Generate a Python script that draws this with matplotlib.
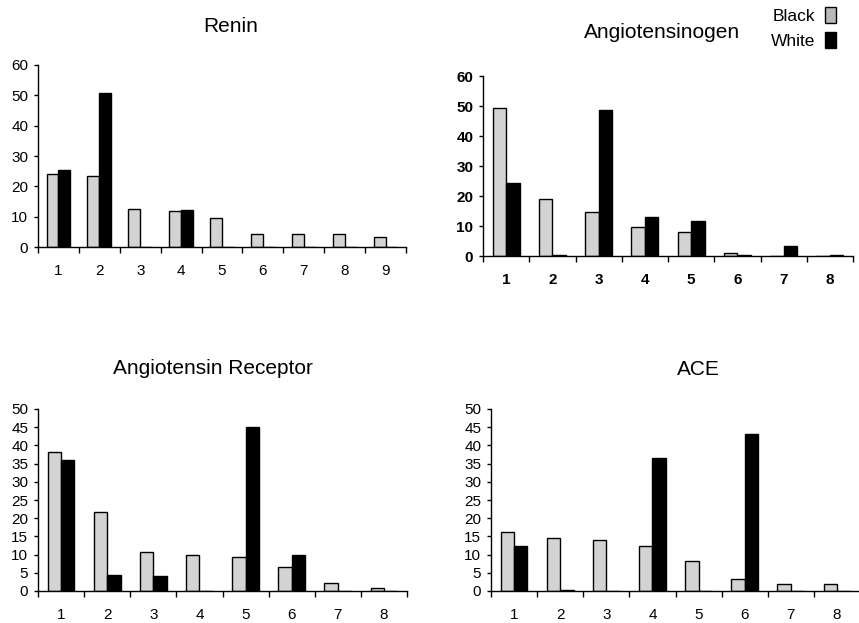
import matplotlib
matplotlib.use("Agg")
import matplotlib.pyplot as plt
from matplotlib.patches import Patch
import numpy as np

plt.rcParams["font.family"] = ["Liberation Sans", "DejaVu Sans"]

# values (percent)
renin_black = [24.2, 23.3, 12.6, 11.8, 9.4, 4.4, 4.2, 4.2, 3.2]
renin_white = [25.5, 50.8, 0, 12.3, 0, 0, 0, 0, 0]

agt_black = [49.2, 19.0, 14.8, 9.7, 8.1, 0.9, 0, 0]
agt_white = [24.4, 0.3, 48.8, 12.9, 11.6, 0.5, 3.2, 0.3]

atr_black = [38.3, 21.8, 10.6, 9.8, 9.4, 6.6, 2.2, 0.9]
atr_white = [35.9, 4.5, 4.0, 0, 45.0, 10.0, 0, 0]

ace_black = [16.1, 14.5, 13.9, 12.3, 8.2, 3.2, 1.9, 1.9]
ace_white = [12.4, 0.3, 0, 36.5, 0, 43.2, 0, 0]

panels = [
    ("Renin", renin_black, renin_white, 60, 10, False),
    ("Angiotensinogen", agt_black, agt_white, 60, 10, True),
    ("Angiotensin Receptor", atr_black, atr_white, 50, 5, False),
    ("ACE", ace_black, ace_white, 50, 5, False),
]

W, H = 859, 623
# axes boxes in pixels: left, right, bottom, top
boxes = [(38, 406, 247, 65), (483, 853, 256, 76), (38, 407, 591, 409), (491, 860, 591, 409)]
# title centre x and baseline y in pixels
titles = [(231, 32), (662, 38), (213, 374), (698, 375)]

GRAY = "#d3d3d3"
w = 0.29

fig = plt.figure(figsize=(W / 100, H / 100), dpi=100)

for (name, blk, wht, ymax, ystep, bold), (l, r, b, t), (tx, ty) in zip(panels, boxes, titles):
    ax = fig.add_axes([l / W, 1 - b / H, (r - l) / W, (b - t) / H])
    n = len(blk)
    x = np.arange(1, n + 1)
    ax.bar(x - w / 2, blk, w, color=GRAY, edgecolor="black", linewidth=1.0)
    ax.bar(x + w / 2, wht, w, color="black", edgecolor="black", linewidth=1.0)
    ax.set_xlim(0.5, n + 0.5)
    ax.set_ylim(0, ymax)
    for s in ["top", "right"]:
        ax.spines[s].set_visible(False)
    for s in ["left", "bottom"]:
        ax.spines[s].set_linewidth(1.0)
    weight = "bold" if bold else "normal"
    ax.set_yticks(np.arange(0, ymax + 1, ystep))
    ax.set_yticklabels([str(v) for v in np.arange(0, ymax + 1, ystep)], fontsize=11, fontweight=weight)
    ax.tick_params(axis="y", direction="out", length=3, width=1, pad=4)
    ax.set_xticks(np.arange(0.5, n + 1, 1))
    ax.set_xticklabels([])
    ax.tick_params(axis="x", which="major", direction="out", length=4, width=1)
    ax.set_xticks(x, minor=True)
    ax.set_xticklabels([str(i) for i in x], minor=True, fontsize=11, fontweight=weight)
    ax.tick_params(axis="x", which="minor", length=0, pad=12)
    fig.text(tx / W, 1 - ty / H, name, ha="center", va="baseline", fontsize=15)

handles = [Patch(facecolor="#b8b8b8", edgecolor="black", linewidth=1.0),
           Patch(facecolor="black", edgecolor="black", linewidth=1.0)]
fig.legend(handles, ["Black", "White"], loc="upper right", bbox_to_anchor=(836 / W, 1 - 7 / H),
           frameon=False, markerfirst=False, fontsize=12.5, handlelength=0.63, handleheight=1.03,
           handletextpad=0.55, labelspacing=0.45, borderpad=0, borderaxespad=0)

fig.savefig("out.png", dpi=100)
